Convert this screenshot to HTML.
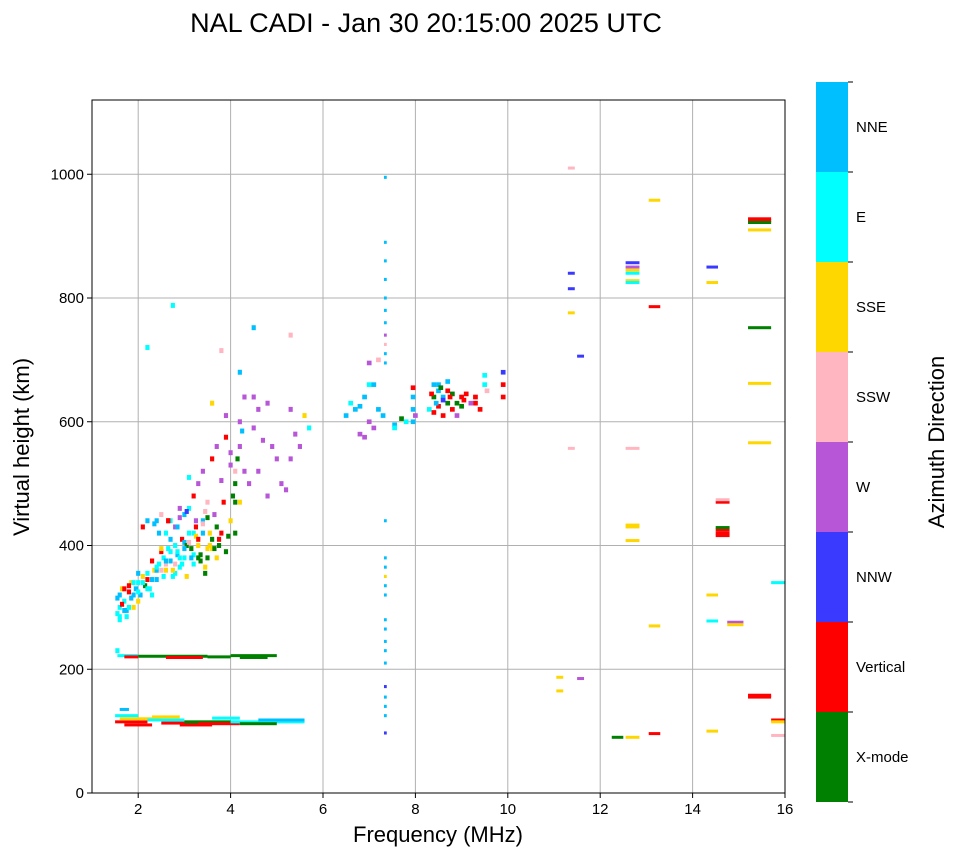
<!DOCTYPE html>
<html><head><meta charset="utf-8"><style>
body{margin:0;background:#fff;font-family:"Liberation Sans",sans-serif}
svg text{font-family:"Liberation Sans",sans-serif}
</style></head><body>
<svg id="chart" width="958" height="857">
<text x="426" y="32" font-size="27" text-anchor="middle">NAL CADI - Jan 30 20:15:00 2025 UTC</text>
<g id="grid"></g>
<g id="marks"></g>
<rect x="92" y="100" width="693" height="693" fill="none" stroke="#000" stroke-width="1"/>
<g id="axes"></g>
<text x="438" y="842" font-size="22" text-anchor="middle">Frequency (MHz)</text>
<text transform="translate(29,447) rotate(-90)" font-size="22" text-anchor="middle">Virtual height (km)</text>
<g id="cbar"></g>
<text transform="translate(944,442) rotate(-90)" font-size="22" text-anchor="middle">Azimuth Direction</text>
</svg>
<script>
const categories=["X-mode","Vertical","NNW","W","SSW","SSE","E","NNE"];
const catColors=["#008000","#ff0000","#3a3aff","#b856d8","#ffb6c1","#ffd700","#00ffff","#00bfff"];
const xTicks=[2,4,6,8,10,12,14,16];
const yTicks=[0,200,400,600,800,1000];
// scattered cells: frequency, height, category
const ptF=[1.55,1.6,1.6,1.65,1.7,1.75,1.8,1.85,1.9,1.95,2.0,2.05,2.1,2.15,2.2,2.25,2.3,2.35,2.4,2.45,2.5,2.55,2.6,2.65,2.7,2.75,2.8,2.85,2.9,2.95,3.0,3.05,3.1,3.15,3.2,3.25,3.3,3.35,3.4,3.45,3.5,3.55,3.6,3.65,3.7,3.75,3.8,3.85,3.95,4.0,4.05,4.1,4.15,4.1,4.2,4.0,4.2,
2.1,2.2,2.4,2.5,2.6,2.7,2.8,2.9,3.0,3.1,3.2,3.3,3.4,3.5,3.6,3.7,3.9,4.0,4.2,4.3,4.2,4.5,4.6,4.8,4.5,4.7,4.9,5.0,4.6,4.4,4.8,5.1,5.3,5.4,5.3,5.5,5.6,5.7,5.2,4.3,3.8,4.1,3.6,
1.55,2.2,2.75,3.8,4.5,5.3,4.25,3.9,1.65,1.75,1.85,2.0,2.2,2.4,2.6,2.8,3.0,3.2,3.4,2.3,2.5,2.7,2.9,3.1,3.3,3.5,2.45,2.65,2.85,3.05,3.25,3.45,3.65,3.75,3.9,4.1,
1.55,1.6,1.7,1.8,1.9,2.0,2.1,2.2,2.3,2.4,2.5,2.6,2.7,2.8,2.9,3.0,3.1,3.2,3.3,3.4,3.5,3.6,3.7,2.55,2.75,2.95,3.15,3.35,3.55,2.35,2.65,2.85,3.05,3.25,3.45,1.6,1.7,1.8,1.9,2.0,
6.5,6.6,6.7,6.8,6.9,7.0,7.0,6.8,6.9,7.1,7.1,7.2,7.0,7.2,7.3,7.55,7.55,7.7,7.8,7.95,7.95,7.95,7.95,8.0,8.4,8.5,8.4,8.5,8.6,8.6,8.7,8.7,8.8,8.8,8.9,8.9,9.0,9.0,8.5,8.4,8.7,9.3,9.3,9.4,9.5,9.5,9.9,9.9,9.9,8.6,8.45,9.1,9.2,8.3,9.55,8.35,8.55,8.75,9.05,
7.35,7.35,7.35,7.35,7.35,7.35,7.35,7.35,7.35,7.35,7.35,7.35,7.35,7.35,7.35,7.35,7.35,7.35,7.35,7.35,7.35,7.35,7.35,7.35,7.35,7.35,7.35];
const ptH=[290,300,320,330,310,285,325,315,300,330,340,320,350,335,355,330,320,360,345,370,390,380,360,395,375,350,400,385,365,410,380,350,420,395,370,430,400,385,440,365,380,420,395,450,380,400,420,470,415,440,480,500,540,420,560,530,470,
430,440,440,450,420,440,430,460,450,510,480,500,520,470,540,560,610,550,600,640,680,640,620,630,590,570,560,540,520,500,480,500,540,580,620,560,610,590,490,520,505,520,630,
230,720,788,715,752,740,585,575,305,295,340,325,345,360,370,355,405,420,435,375,395,410,445,460,380,445,420,440,390,400,415,355,395,410,390,470,
315,285,330,300,320,310,340,330,345,365,360,375,390,370,380,395,405,385,410,420,395,410,430,350,360,370,380,375,400,435,440,430,455,440,455,280,295,335,340,355,
610,630,620,625,640,660,600,580,575,590,660,620,695,700,610,595,590,605,600,600,620,640,655,610,615,625,640,660,640,610,650,630,620,645,630,610,625,640,650,660,665,630,640,620,660,675,660,640,680,635,630,645,630,620,650,645,655,640,635,
995,890,860,830,800,780,760,740,725,710,695,440,380,365,350,335,320,280,265,245,230,210,172,155,140,125,97];
const ptC=[6,6,7,5,6,6,1,7,5,7,6,7,5,0,6,6,6,5,7,6,1,6,5,6,7,6,6,7,6,1,6,5,6,0,6,1,5,0,7,5,0,5,5,3,5,0,1,1,0,5,0,0,0,0,3,3,5,
1,7,7,4,6,6,3,3,7,6,1,3,3,4,1,3,3,3,3,3,7,3,3,3,3,3,3,3,3,3,3,3,3,3,3,3,5,6,3,3,3,4,5,
6,6,6,4,7,4,7,1,1,7,5,6,1,7,4,6,7,6,4,1,5,7,3,6,0,0,7,1,6,0,5,0,0,1,0,0,
7,6,1,6,7,5,6,6,7,6,4,7,6,4,6,7,4,6,1,7,5,0,0,6,5,6,7,0,5,7,1,7,2,3,4,6,7,1,6,7,
7,6,7,7,7,6,3,3,3,3,7,7,3,4,7,7,6,0,6,7,7,7,1,3,1,1,0,7,7,1,1,0,1,0,0,3,0,1,7,7,7,1,1,1,6,6,1,1,2,2,7,1,3,6,4,1,0,1,1,
7,7,7,7,7,7,7,3,4,7,7,7,7,7,5,7,7,7,7,7,7,7,2,7,7,7,2];
// horizontal segments: start freq, end freq, height, category
const segF0=[1.5,1.6,2.2,2.5,3.0,3.3,4.0,4.2,4.6,1.5,1.6,1.55,1.7,2.0,2.6,3.5,4.0,4.2,3.0,1.7,2.3,2.9,3.6,
11.3,11.3,11.3,11.3,11.5,11.3,11.05,11.05,11.5,12.55,12.55,12.55,12.55,12.55,12.55,12.55,12.55,12.55,12.55,12.55,12.25,13.05,13.05,13.05,13.05,14.3,14.3,14.3,14.3,14.3,14.5,14.5,14.5,14.5,14.5,14.5,14.75,14.75,15.2,15.2,15.2,15.2,15.2,15.2,15.2,15.2,15.2,15.7,15.7,15.7,15.7];
const segF1=[2.2,2.5,3.0,3.5,4.0,4.2,5.6,5.0,5.6,2.0,1.8,2.0,2.0,3.5,3.4,4.0,5.0,4.8,3.3,2.3,2.9,3.6,4.2,
11.45,11.45,11.45,11.45,11.65,11.45,11.2,11.2,11.65,12.85,12.85,12.85,12.85,12.85,12.85,12.85,12.85,12.85,12.85,12.85,12.5,13.3,13.3,13.3,13.3,14.55,14.55,14.55,14.55,14.55,14.8,14.8,14.8,14.8,14.8,14.8,15.1,15.1,15.7,15.7,15.7,15.7,15.7,15.7,15.7,15.7,15.7,16.0,16.0,16.0,16.0];
const segH=[115,120,118,113,115,112,115,112,118,125,135,222,220,221,219,220,222,219,112,110,123,110,121,
1010,840,815,776,706,557,187,165,185,857,850,845,840,828,825,557,430,433,408,90,90,958,786,270,96,850,825,320,278,100,470,474,425,420,429,416,276,272,928,925,922,910,752,662,566,155,158,340,118,115,93];
const segC=[1,5,6,1,0,1,6,0,7,6,7,6,1,0,1,0,0,0,0,1,5,1,6,
4,2,2,5,2,4,5,5,3,2,3,5,6,5,6,4,5,5,5,5,0,5,1,5,1,2,5,5,6,5,1,4,1,1,0,1,3,5,1,1,0,5,0,5,5,1,1,6,1,5,4];

const NS="http://www.w3.org/2000/svg";
const X0=92,X1=785,Y0=793,Y1=100;
const xs=f=>X0+(f-1)/(16-1)*(X1-X0);
const ys=h=>Y0-h/1120*(Y0-Y1);
function mk(tag,attrs,parent){const e=document.createElementNS(NS,tag);for(const k in attrs)e.setAttribute(k,attrs[k]);parent.appendChild(e);return e;}
const grid=document.getElementById('grid'),axes=document.getElementById('axes'),marks=document.getElementById('marks'),cbar=document.getElementById('cbar');
xTicks.forEach(t=>{const x=xs(t);
 const g=mk('line',{x1:x,x2:x,y1:Y1,y2:Y0,stroke:'#b0b0b0','stroke-width':1},grid);
 
 
 mk('line',{x1:x,x2:x,y1:Y0,y2:Y0+5,stroke:'#000'},axes);
 const l=mk('text',{x:x,y:Y0+21,'font-size':15,'text-anchor':'middle'},axes);l.textContent=t;
 
 
});
yTicks.forEach(t=>{const y=ys(t);
 if(t>0){const g=mk('line',{x1:X0,x2:X1,y1:y,y2:y,stroke:'#b0b0b0','stroke-width':1},grid);
 
 }
 mk('line',{x1:X0-5,x2:X0,y1:y,y2:y,stroke:'#000'},axes);
 const l=mk('text',{x:X0-8,y:y+5,'font-size':15,'text-anchor':'end'},axes);l.textContent=t;
 
 
});
const cw=(xs(1.06)-xs(1)),ch=ys(0)-ys(5);
for(let i=0;i<ptF.length;i++){
 const big=ptF[i]>6.3&&ptF[i]<10.2&&ptF[i]!==7.35;
 const low=ptF[i]<6.3;
 const w=big?cw*1.7:(low?cw*1.5:cw), h=big?ch*1.5:(low?ch*1.6:ch);
 const r=mk('rect',{x:xs(ptF[i])-w/2,y:ys(ptH[i])-h/2,width:w,height:h,fill:catColors[ptC[i]]},marks);
 
 
}
for(let i=0;i<segF0.length;i++){
 const r=mk('rect',{x:xs(segF0[i]),y:ys(segH[i])-1.5,width:xs(segF1[i])-xs(segF0[i]),height:3,fill:catColors[segC[i]]},marks);
 
 
}
const CB0=82,CBH=720,bh=CBH/categories.length;
categories.forEach((c,i)=>{const y=CB0+CBH-(i+1)*bh;
 const r=mk('rect',{x:816,y:y,width:32,height:bh,fill:catColors[i]},cbar);
 
 
 const l=mk('text',{x:856,y:y+bh/2+5,'font-size':15},cbar);l.textContent=c;
 
 
});
for(let i=0;i<=categories.length;i++){const y=CB0+i*bh;mk('line',{x1:848,x2:853,y1:y,y2:y,stroke:'#000'},cbar);}
</script>
</body></html>
